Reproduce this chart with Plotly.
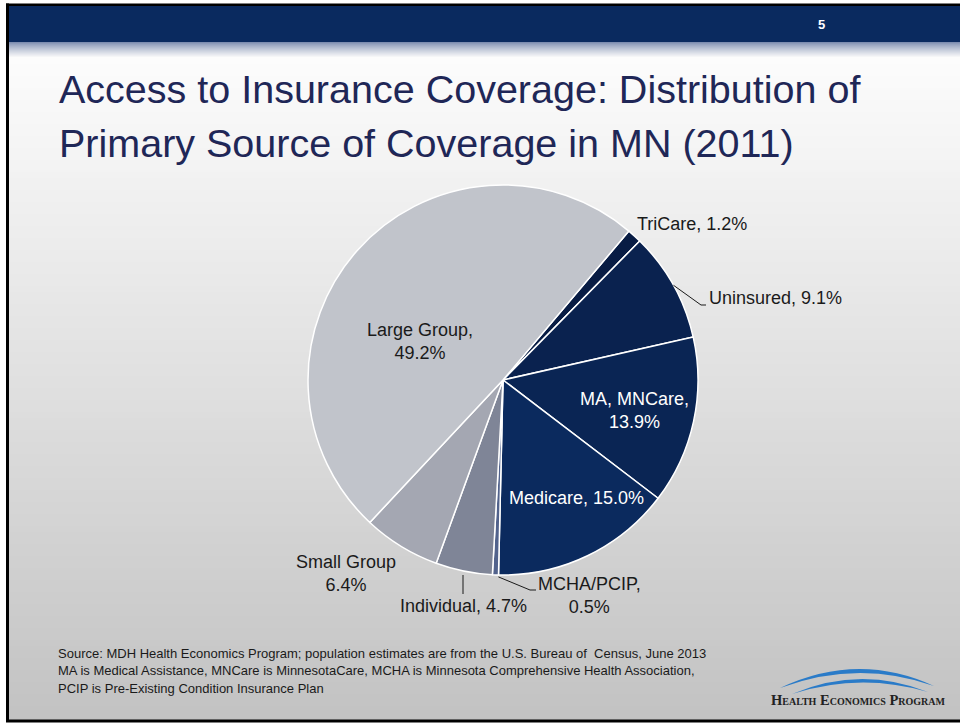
import math
import plotly.graph_objects as go

# ---- data -------------------------------------------------------------
sources = ["TriCare", "Uninsured", "MA, MNCare", "Medicare", "MCHA/PCIP",
           "Individual", "Small Group", "Large Group"]
shares = [1.2, 9.1, 13.9, 15.0, 0.5, 4.7, 6.4, 49.2]
slice_colors = ["#081c44", "#0a224f", "#0a2554", "#0b2a5e", "#51628c",
                "#7f8597", "#a4a7b2", "#c1c4cb"]

title_lines = ["Access to Insurance Coverage: Distribution of",
               "Primary Source of Coverage in MN (2011)"]
notes = [
    "Source: MDH Health Economics Program; population estimates are from the U.S. Bureau of  Census, June 2013",
    "MA is Medical Assistance, MNCare is MinnesotaCare, MCHA is Minnesota Comprehensive Health Association,",
    "PCIP is Pre-Existing Condition Insurance Plan",
]
slide_number = "5"
logo_text = "Health Economics Program"

# ---- geometry (pixels) --------------------------------------------------
W, H = 960, 723
CX, CY, R = 503, 380, 195
ROTATION = 40.2
FONT = "Liberation Sans, Arial, sans-serif"
NARROW = "Liberation Sans Narrow, Arial Narrow, Liberation Sans, sans-serif"

fig = go.Figure()

# invisible pixel-space axes for shapes and annotations
fig.add_trace(go.Scatter(x=[0], y=[0], mode="markers", marker=dict(opacity=0),
                         hoverinfo="skip", showlegend=False))

fig.add_trace(go.Pie(
    labels=sources, values=shares, sort=False, direction="clockwise",
    rotation=ROTATION, textinfo="none", hoverinfo="label+percent",
    marker=dict(colors=slice_colors, line=dict(color="white", width=1.5)),
    domain=dict(x=[(CX - R) / W, (CX + R) / W],
                y=[(H - CY - R) / H, (H - CY + R) / H]),
    showlegend=False,
))

shapes = []


def rect(x0, y0, x1, y1, color, layer="below"):
    shapes.append(dict(type="rect", xref="x", yref="y", x0=x0, y0=y0, x1=x1, y1=y1,
                       fillcolor=color, line=dict(width=0), layer=layer))


def grey(v):
    v = int(round(v))
    return f"rgb({v},{v},{v})"


# slide background: light grey fading darker toward the bottom
top, bottom = 58, 720
step = 6
y = top
while y < bottom:
    t = (y - top) / (bottom - top)
    rect(8, y, W, min(y + step + 0.5, bottom), grey(252 - 58 * t))
    y += step

# header bar with a soft shadow below it
rect(8, 5, W, 42, "#0a2a5f")
for i in range(16):
    t = i / 15
    r_ = 125 + (252 - 125) * t ** 0.8
    g_ = 141 + (252 - 141) * t ** 0.8
    b_ = 176 + (252 - 176) * t ** 0.8
    rect(8, 42 + i, W, 43 + i, f"rgb({int(r_)},{int(g_)},{int(b_)})")

# frame
rect(6, 3.5, W, 6, "#000000")
rect(6, 3.5, 9, 722, "#000000")
rect(6, 719.5, W, 722.5, "#000000")

# leader lines, starting on the rim at each slice's mid-angle
total = sum(shares)
mid_angle = {}
cum = 0.0
for name, v in zip(sources, shares):
    mid_angle[name] = ROTATION + 360.0 * (cum + v / 2) / total
    cum += v


def rim(name):
    a = math.radians(mid_angle[name])
    return CX + R * math.sin(a), CY - R * math.cos(a)


def leader(points):
    d = "M " + " L ".join(f"{px:.1f} {py:.1f}" for px, py in points)
    shapes.append(dict(type="path", xref="x", yref="y", path=d,
                       line=dict(color="#1a1a1a", width=1), layer="above"))


ux, uy = rim("Uninsured")
leader([(ux, uy), (701, 305), (706, 305)])
mx, my = rim("MCHA/PCIP")
leader([(mx + 3, my + 2), (530, 590), (536, 590)])
ix, iy = rim("Individual")
leader([(463, iy + 4), (463, 594)])

# logo arcs
shapes.append(dict(type="path", xref="x", yref="y",
                   path="M 780 688 Q 858 651 934 686 Q 858 659 780 688 Z",
                   fillcolor="#2a7bc8", line=dict(width=0), layer="above"))
shapes.append(dict(type="path", xref="x", yref="y",
                   path="M 792 694 Q 860 665 928 692 Q 860 672 792 694 Z",
                   fillcolor="#2a7bc8", line=dict(width=0), layer="above"))

ann = []


def text(x, y, s, size, color="#1a1a1a", family=FONT, xanchor="center", **kw):
    ann.append(dict(x=x, y=y, xref="x", yref="y", text=s, showarrow=False,
                    xanchor=xanchor, yanchor="middle", align="center",
                    font=dict(family=family, size=size, color=color, **kw)))


def pct(name):
    return f"{shares[sources.index(name)]:.1f}%"


# slice labels
text(692, 224, f"TriCare, {pct('TriCare')}", 18)
text(707, 298, f"Uninsured, {pct('Uninsured')}", 18, xanchor="left")
text(420, 341, f"Large Group,<br>{pct('Large Group')}", 18)
text(634, 410, f"MA, MNCare,<br>{pct('MA, MNCare')}", 18, color="white")
text(576, 498, f"Medicare, {pct('Medicare')}", 18, color="white")
text(589, 595, f"MCHA/PCIP,<br>{pct('MCHA/PCIP')}", 18)
text(463, 606, f"Individual, {pct('Individual')}", 18)
text(346, 573, f"Small Group<br>{pct('Small Group')}", 18)

# title
text(57, 89, title_lines[0], 39.5, color="#1f2757", xanchor="left")
text(57, 143, title_lines[1], 39.5, color="#1f2757", xanchor="left")

# slide number
text(821, 24, slide_number, 13, color="white", weight="bold")

# notes
for i, line in enumerate(notes):
    text(56, 653 + 17.5 * i, line, 13, family=NARROW, xanchor="left")

# logo caption
text(858, 700, logo_text, 14.5, color="#222222", family="Liberation Serif, serif",
     weight="bold", variant="small-caps")

fig.update_layout(
    width=W, height=H, margin=dict(l=0, r=0, t=0, b=0),
    paper_bgcolor="white", plot_bgcolor="rgba(0,0,0,0)",
    xaxis=dict(range=[0, W], visible=False, fixedrange=True, domain=[0, 1]),
    yaxis=dict(range=[H, 0], visible=False, fixedrange=True, domain=[0, 1]),
    shapes=shapes, annotations=ann, showlegend=False,
)

fig.write_html("out.html")
